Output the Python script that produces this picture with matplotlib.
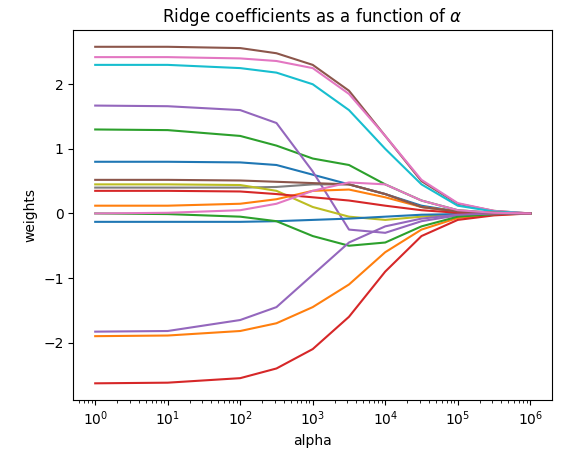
import numpy as np
import matplotlib
matplotlib.use("Agg")
import matplotlib.pyplot as plt

alphas = [1, 10, 100, 10**2.5, 1e3, 10**3.5, 1e4, 10**4.5, 1e5, 10**5.5, 1e6]

# coefficient paths, (colour, values at alphas)
coefs = [
    ("C0", [0.80, 0.80, 0.79, 0.75, 0.60, 0.45, 0.30, 0.12, 0.03, 0.01, 0.0]),
    ("C1", [-1.90, -1.89, -1.82, -1.70, -1.45, -1.10, -0.60, -0.25, -0.07, -0.02, 0.0]),
    ("C2", [1.30, 1.29, 1.20, 1.05, 0.85, 0.75, 0.45, 0.20, 0.05, 0.01, 0.0]),
    ("C3", [-2.63, -2.62, -2.55, -2.40, -2.10, -1.60, -0.90, -0.35, -0.10, -0.03, 0.0]),
    ("C4", [1.67, 1.66, 1.60, 1.40, 0.65, -0.25, -0.30, -0.12, -0.03, -0.01, 0.0]),
    ("C5", [2.58, 2.58, 2.56, 2.48, 2.30, 1.90, 1.20, 0.50, 0.15, 0.04, 0.0]),
    ("C6", [2.42, 2.42, 2.40, 2.36, 2.25, 1.85, 1.20, 0.52, 0.16, 0.04, 0.0]),
    ("C7", [0.40, 0.40, 0.40, 0.41, 0.45, 0.45, 0.30, 0.10, 0.03, 0.01, 0.0]),
    ("C8", [0.45, 0.45, 0.44, 0.35, 0.10, -0.05, -0.10, -0.05, -0.01, 0.0, 0.0]),
    ("C9", [2.30, 2.30, 2.25, 2.18, 2.00, 1.60, 1.00, 0.45, 0.12, 0.03, 0.0]),
    ("C0", [-0.13, -0.13, -0.13, -0.12, -0.10, -0.08, -0.05, -0.02, -0.01, 0.0, 0.0]),
    ("C1", [0.12, 0.12, 0.15, 0.22, 0.35, 0.37, 0.25, 0.10, 0.03, 0.01, 0.0]),
    ("C2", [0.0, -0.01, -0.05, -0.12, -0.35, -0.50, -0.45, -0.20, -0.05, -0.01, 0.0]),
    ("C3", [0.35, 0.35, 0.34, 0.30, 0.25, 0.20, 0.12, 0.05, 0.01, 0.0, 0.0]),
    ("C4", [-1.83, -1.82, -1.65, -1.45, -0.95, -0.45, -0.20, -0.08, -0.02, 0.0, 0.0]),
    ("C5", [0.52, 0.52, 0.51, 0.49, 0.47, 0.45, 0.30, 0.10, 0.03, 0.01, 0.0]),
    ("C6", [0.0, 0.01, 0.05, 0.15, 0.35, 0.48, 0.45, 0.20, 0.05, 0.01, 0.0]),
]

fig, ax = plt.subplots(figsize=(5.65, 4.61), dpi=100)
fig.subplots_adjust(left=0.13, right=0.977, top=0.935, bottom=0.132)
for color, vals in coefs:
    ax.plot(alphas, vals, color=color)
ax.set_xscale("log")
ax.set_xlabel("alpha")
ax.set_ylabel("weights")
ax.set_title(r"Ridge coefficients as a function of $\alpha$")
plt.savefig("out.png")
